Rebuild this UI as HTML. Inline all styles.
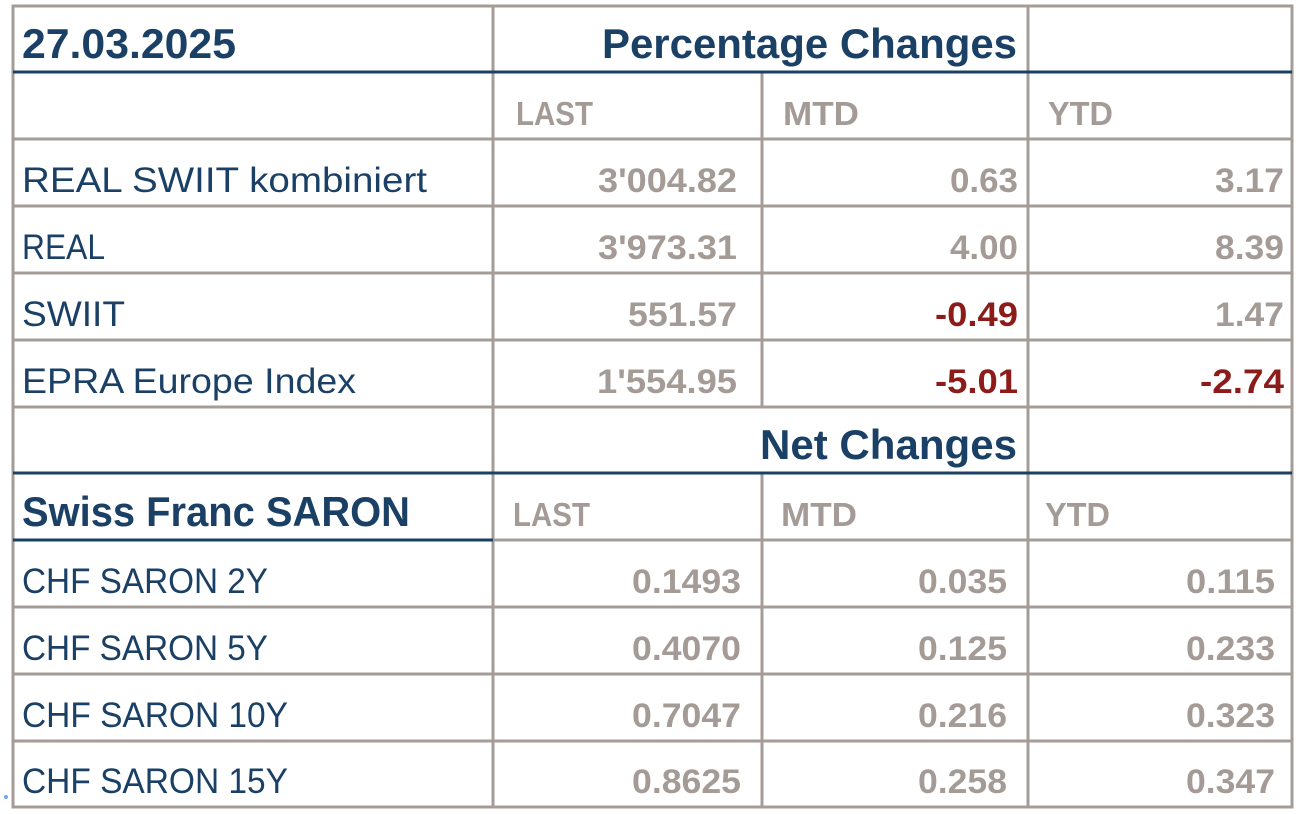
<!DOCTYPE html>
<html><head><meta charset="utf-8"><style>
html,body{margin:0;padding:0;background:#fff;width:1298px;height:814px;overflow:hidden}
svg{display:block}
text{font-family:"Liberation Sans",sans-serif}
.t{font-weight:bold;fill:#1b4066;font-size:42px}
.l{fill:#1b4066;font-size:35px}
.h{font-weight:bold;fill:#a49b96;font-size:33px}
.v{font-weight:bold;fill:#a49b96;font-size:34px;text-anchor:end}
.r{fill:#8c1c1a}
</style></head><body>
<svg width="1298" height="814" viewBox="0 0 1298 814">
<g stroke="#a59c97" stroke-width="3" fill="none">
<rect x="13" y="6" width="1279" height="801"/>
<line x1="493" y1="6" x2="493" y2="807"/>
<line x1="1028" y1="6" x2="1028" y2="807"/>
<line x1="762" y1="72" x2="762" y2="407"/>
<line x1="762" y1="473" x2="762" y2="807"/>
<line x1="13" y1="139" x2="1292" y2="139"/>
<line x1="13" y1="206" x2="1292" y2="206"/>
<line x1="13" y1="273" x2="1292" y2="273"/>
<line x1="13" y1="340" x2="1292" y2="340"/>
<line x1="13" y1="407" x2="1292" y2="407"/>
<line x1="493" y1="540" x2="1292" y2="540"/>
<line x1="13" y1="607" x2="1292" y2="607"/>
<line x1="13" y1="674" x2="1292" y2="674"/>
<line x1="13" y1="741" x2="1292" y2="741"/>
</g>
<g stroke="#1b4066" stroke-width="3">
<line x1="13" y1="72" x2="1292" y2="72"/>
<line x1="13" y1="473" x2="1292" y2="473"/>
<line x1="13" y1="540" x2="493" y2="540"/>
</g>
<circle cx="6" cy="797" r="2" fill="#6fa8f0"/>

<text class="t" x="22" y="58" textLength="214" lengthAdjust="spacingAndGlyphs">27.03.2025</text>
<text class="t" x="602" y="58" textLength="415" lengthAdjust="spacingAndGlyphs">Percentage Changes</text>
<text class="h" x="516" y="125" textLength="77" lengthAdjust="spacingAndGlyphs">LAST</text>
<text class="h" x="783" y="125" textLength="76" lengthAdjust="spacingAndGlyphs">MTD</text>
<text class="h" x="1048" y="125" textLength="65" lengthAdjust="spacingAndGlyphs">YTD</text>

<text class="l" x="22" y="192" textLength="405" lengthAdjust="spacingAndGlyphs">REAL SWIIT kombiniert</text>
<text class="v" x="737" y="192" textLength="139" lengthAdjust="spacingAndGlyphs">3'004.82</text>
<text class="v" x="1018" y="192" textLength="68" lengthAdjust="spacingAndGlyphs">0.63</text>
<text class="v" x="1284" y="192" textLength="69" lengthAdjust="spacingAndGlyphs">3.17</text>

<text class="l" x="22" y="259" textLength="83" lengthAdjust="spacingAndGlyphs">REAL</text>
<text class="v" x="737" y="259" textLength="139" lengthAdjust="spacingAndGlyphs">3'973.31</text>
<text class="v" x="1018" y="259" textLength="68" lengthAdjust="spacingAndGlyphs">4.00</text>
<text class="v" x="1284" y="259" textLength="69" lengthAdjust="spacingAndGlyphs">8.39</text>

<text class="l" x="22" y="326" textLength="103" lengthAdjust="spacingAndGlyphs">SWIIT</text>
<text class="v" x="737" y="326" textLength="109" lengthAdjust="spacingAndGlyphs">551.57</text>
<text class="v r" x="1018" y="326" textLength="83" lengthAdjust="spacingAndGlyphs">-0.49</text>
<text class="v" x="1284" y="326" textLength="69" lengthAdjust="spacingAndGlyphs">1.47</text>

<text class="l" x="22" y="393" textLength="334" lengthAdjust="spacingAndGlyphs">EPRA Europe Index</text>
<text class="v" x="737" y="393" textLength="140" lengthAdjust="spacingAndGlyphs">1'554.95</text>
<text class="v r" x="1018" y="393" textLength="83" lengthAdjust="spacingAndGlyphs">-5.01</text>
<text class="v r" x="1284" y="393" textLength="84" lengthAdjust="spacingAndGlyphs">-2.74</text>

<text class="t" x="760" y="459" textLength="257" lengthAdjust="spacingAndGlyphs">Net Changes</text>
<text class="t" x="22" y="526" textLength="388" lengthAdjust="spacingAndGlyphs">Swiss Franc SARON</text>
<text class="h" x="513" y="526" textLength="77" lengthAdjust="spacingAndGlyphs">LAST</text>
<text class="h" x="781" y="526" textLength="76" lengthAdjust="spacingAndGlyphs">MTD</text>
<text class="h" x="1045" y="526" textLength="65" lengthAdjust="spacingAndGlyphs">YTD</text>

<text class="l" x="22" y="593" textLength="246" lengthAdjust="spacingAndGlyphs">CHF SARON 2Y</text>
<text class="v" x="741" y="593" textLength="109" lengthAdjust="spacingAndGlyphs">0.1493</text>
<text class="v" x="1007" y="593" textLength="89" lengthAdjust="spacingAndGlyphs">0.035</text>
<text class="v" x="1275" y="593" textLength="89" lengthAdjust="spacingAndGlyphs">0.115</text>

<text class="l" x="22" y="660" textLength="246" lengthAdjust="spacingAndGlyphs">CHF SARON 5Y</text>
<text class="v" x="741" y="660" textLength="109" lengthAdjust="spacingAndGlyphs">0.4070</text>
<text class="v" x="1007" y="660" textLength="89" lengthAdjust="spacingAndGlyphs">0.125</text>
<text class="v" x="1275" y="660" textLength="89" lengthAdjust="spacingAndGlyphs">0.233</text>

<text class="l" x="22" y="727" textLength="266" lengthAdjust="spacingAndGlyphs">CHF SARON 10Y</text>
<text class="v" x="741" y="727" textLength="109" lengthAdjust="spacingAndGlyphs">0.7047</text>
<text class="v" x="1007" y="727" textLength="89" lengthAdjust="spacingAndGlyphs">0.216</text>
<text class="v" x="1275" y="727" textLength="89" lengthAdjust="spacingAndGlyphs">0.323</text>

<text class="l" x="22" y="793" textLength="266" lengthAdjust="spacingAndGlyphs">CHF SARON 15Y</text>
<text class="v" x="741" y="793" textLength="109" lengthAdjust="spacingAndGlyphs">0.8625</text>
<text class="v" x="1007" y="793" textLength="89" lengthAdjust="spacingAndGlyphs">0.258</text>
<text class="v" x="1275" y="793" textLength="89" lengthAdjust="spacingAndGlyphs">0.347</text>
</svg>
</body></html>
